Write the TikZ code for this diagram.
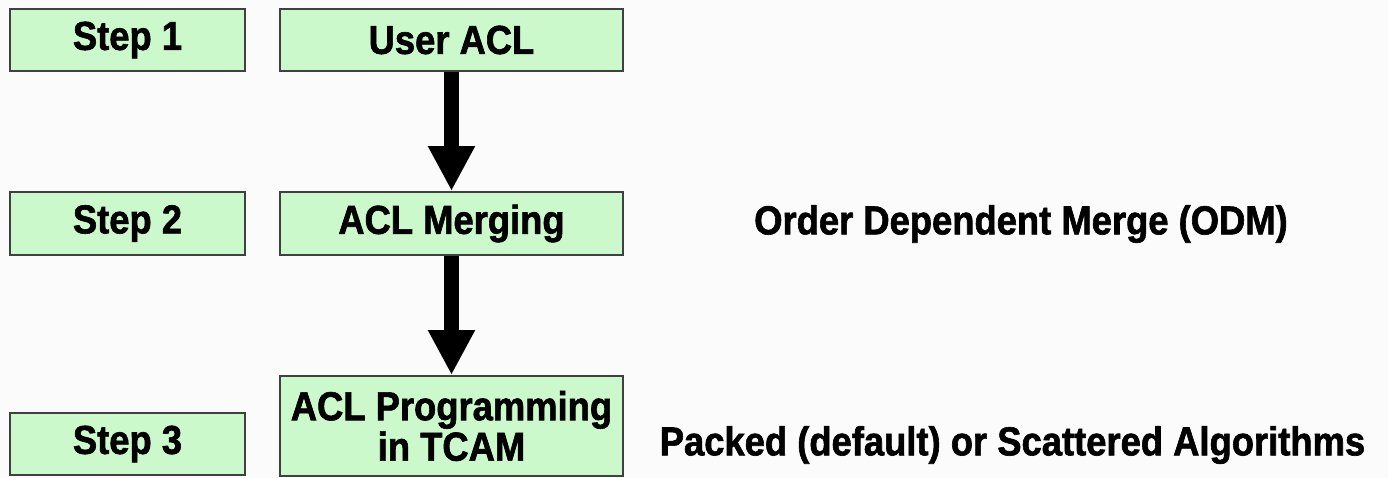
\documentclass[tikz,border=0pt]{standalone}
\usepackage{fontspec}
\setmainfont[FakeStretch=0.9,BoldFeatures={FakeBold=1.5}]{Liberation Sans}
\usetikzlibrary{arrows.meta}
\definecolor{boxgreen}{RGB}{204,249,204}
\definecolor{boxline}{RGB}{64,64,64}
\definecolor{paper}{RGB}{251,251,251}
\tikzset{
  stepbox/.style={draw=boxline,line width=1.1pt,fill=boxgreen,minimum width=4.7cm,minimum height=1.24cm,inner sep=0pt},
  taskbox/.style={stepbox,minimum width=6.86cm,align=center},
  flow/.style={-{Triangle[width=0.88cm,length=0.9cm]},line width=0.3cm}
}
\begin{document}
\begin{tikzpicture}[font=\fontsize{23}{23}\selectfont\bfseries]
  \fill[paper] (0,0) rectangle (27.76,9.56);
  \useasboundingbox (0,0) rectangle (27.76,9.56);
  \node (step1) at (2.55,8.76) [stepbox] {Step 1};
  \node (user) at (9.03,8.76) [taskbox] {User ACL};
  \node (step2) at (2.55,5.09) [stepbox,minimum height=1.26cm] {Step 2};
  \node (merge) at (9.03,5.09) [taskbox,minimum height=1.26cm] {ACL Merging};
  \node (step3) at (2.55,0.68) [stepbox] {Step 3};
  \node (prog) at (9.03,1.04) [taskbox,minimum height=2.0cm] {ACL Programming\\in TCAM};
  \node (odm) at (20.42,5.08) {Order Dependent Merge (ODM)};
  \node (algo) at (20.25,0.66) {Packed (default) or Scattered Algorithms};
  \draw[flow] (user) -- (merge);
  \draw[flow] (merge) -- (prog);
\end{tikzpicture}
\end{document}
